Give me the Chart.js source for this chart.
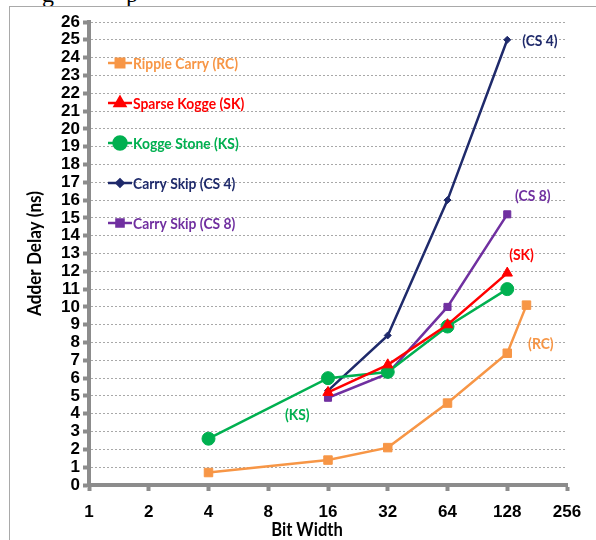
<!DOCTYPE html>
<html>
<head>
<meta charset="utf-8">
<script src="https://cdn.jsdelivr.net/npm/chart.js@4.4.0/dist/chart.umd.min.js"></script>
<style>
	html, body { margin: 0; padding: 0; background: #fff; }
	#wrap { position: relative; width: 596px; height: 540px; overflow: hidden; }
	#frame { position: absolute; left: 9px; top: 6px; width: 600px; height: 560px; border: 1px solid #a9a9a9; }
	.cap { position: absolute; top: -19px; font: 24px 'Liberation Serif', serif; color: #000; }
	canvas { position: absolute; left: 0; top: 0; }
</style>
</head>
<body>
<div id="wrap">
	<span class="cap" style="left:42px">g</span><span class="cap" style="left:126px">p</span>
	<div id="frame"></div>
	<canvas id="chart" width="596" height="540"></canvas>
</div>
<script>
// bit widths on the x axis, delays in ns
const xTicks = [1, 2, 4, 8, 16, 32, 64, 128, 256];

const rcWidths = [4, 16, 32, 64, 128, 160];
const rcDelay = [0.7, 1.4, 2.1, 4.6, 7.4, 10.1];

const skWidths = [16, 32, 64, 128];
const skDelay = [5.2, 6.75, 9.0, 11.9];

const ksWidths = [4, 16, 32, 64, 128];
const ksDelay = [2.6, 6.0, 6.35, 8.9, 11.0];

const cs4Widths = [16, 32, 64, 128];
const cs4Delay = [5.3, 8.4, 16.0, 25.0];

const cs8Widths = [16, 32, 64, 128];
const cs8Delay = [4.9, 6.25, 10.0, 15.2];

const seriesNames = ['Ripple Carry (RC)', 'Sparse Kogge (SK)', 'Kogge Stone (KS)', 'Carry Skip (CS 4)', 'Carry Skip (CS 8)'];

// short tags next to the curves: [text, bit width, delay]
const tags = [
	['(CS 4)', 187, 24.9],
	['(CS 8)', 172, 16.2],
	['(SK)', 151, 12.9],
	['(RC)', 189, 7.9],
	['(KS)', 11.2, 3.93],
];
const tagColors = ['#1f2a6b', '#7030a0', '#ff0000', '#f79646', '#00b050'];

const points = (xs, ys) => xs.map((x, i) => ({ x: x, y: ys[i] }));

const makeSet = (label, data, color, style, radius) => ({
	label: label,
	data: data,
	borderColor: color,
	backgroundColor: color,
	borderWidth: 2.5,
	pointStyle: style,
	pointRadius: radius,
	pointHoverRadius: radius,
	pointBorderWidth: 1,
	tension: 0,
});

const labelFont = 'bold 15px Lato';

function drawSquished(ctx, text, x, y, k, align) {
	ctx.save();
	ctx.translate(x, y);
	ctx.scale(k, 1);
	ctx.textAlign = align;
	ctx.fillText(text, 0, 0);
	ctx.restore();
}

const extras = {
	id: 'extras',
	afterDatasetsDraw(chart) {
		const ctx = chart.ctx;
		const area = chart.chartArea;
		const xs = chart.scales.x;
		const ys = chart.scales.y;

		ctx.save();
		ctx.font = labelFont;
		ctx.textBaseline = 'middle';
		const k = 105 / ctx.measureText(seriesNames[0]).width;

		// legend inside the plot
		chart.data.datasets.forEach((ds, i) => {
			const y = area.top + 41 + i * 40;
			const x0 = area.left + 19;
			ctx.strokeStyle = ds.borderColor;
			ctx.fillStyle = ds.backgroundColor;
			ctx.lineWidth = 2.5;
			ctx.beginPath();
			ctx.moveTo(x0, y);
			ctx.lineTo(x0 + 24, y);
			ctx.stroke();
			Chart.helpers.drawPoint(ctx, { pointStyle: ds.pointStyle, radius: ds.pointRadius, rotation: 0, borderWidth: 1 }, x0 + 12, y);
			ctx.fillStyle = ds.borderColor;
			drawSquished(ctx, seriesNames[i], x0 + 25, y + 1, k, 'left');
		});

		// curve tags
		tags.forEach((t, i) => {
			ctx.fillStyle = tagColors[i];
			drawSquished(ctx, t[0], xs.getPixelForValue(t[1]), ys.getPixelForValue(t[2]), k, 'center');
		});

		// axis titles
		ctx.fillStyle = '#000';
		ctx.font = 'bold 18px Lato';
		drawSquished(ctx, 'Bit Width', 307, 530, 0.92, 'center');
		ctx.translate(35, (area.top + area.bottom) / 2);
		ctx.rotate(-Math.PI / 2);
		drawSquished(ctx, 'Adder Delay (ns)', 0, 0, 0.95, 'center');
		ctx.restore();
	},
};

new Chart(document.getElementById('chart'), {
	type: 'line',
	data: {
		datasets: [
			makeSet(seriesNames[0], points(rcWidths, rcDelay), '#f79646', 'rect', 6),
			makeSet(seriesNames[1], points(skWidths, skDelay), '#ff0000', 'triangle', 6),
			makeSet(seriesNames[2], points(ksWidths, ksDelay), '#00b050', 'circle', 6.5),
			makeSet(seriesNames[3], points(cs4Widths, cs4Delay), '#1f2a6b', 'rectRot', 3.5),
			makeSet(seriesNames[4], points(cs8Widths, cs8Delay), '#7030a0', 'rect', 5),
		],
	},
	options: {
		responsive: false,
		animation: false,
		events: [],
		layout: { padding: { left: 0, right: 29, top: 22, bottom: 0 } },
		plugins: { legend: { display: false }, tooltip: { enabled: false } },
		scales: {
			x: {
				type: 'logarithmic',
				min: 1,
				max: 256,
				afterBuildTicks: (scale) => { scale.ticks = xTicks.map((v) => ({ value: v })); },
				afterFit: (scale) => { scale.height = 55; },
				grid: { drawOnChartArea: false, drawTicks: true, tickLength: 6, tickWidth: 4, tickColor: '#8c8c8c' },
				border: { color: '#8c8c8c', width: 4 },
				ticks: {
					autoSkip: false,
					maxRotation: 0,
					padding: 11,
					color: '#000',
					font: { family: 'Liberation Sans', size: 17, weight: 'bold' },
					callback: (v) => String(v),
				},
			},
			y: {
				min: 0,
				max: 26,
				afterFit: (scale) => { scale.width = 89; },
				grid: { color: '#a8a8a8', lineWidth: 1, tickLength: 6, tickWidth: 4, tickColor: '#8c8c8c' },
				border: { color: '#8c8c8c', width: 4, dash: [2, 2] },
				ticks: {
					stepSize: 1,
					autoSkip: false,
					padding: 3,
					color: '#000',
					font: { family: 'Liberation Sans', size: 17, weight: 'bold' },
				},
			},
		},
	},
	plugins: [extras],
});
</script>
</body>
</html>
